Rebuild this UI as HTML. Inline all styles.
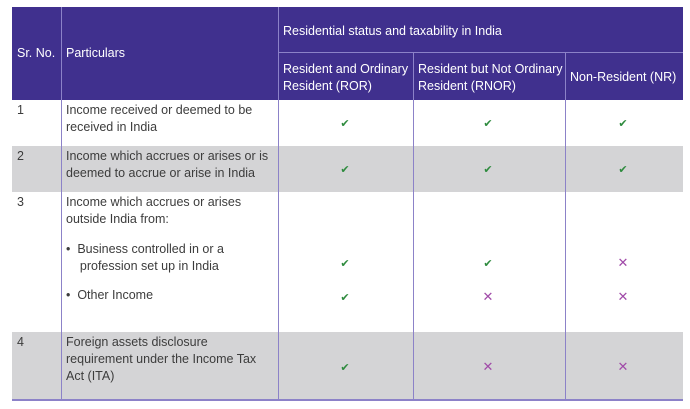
<!DOCTYPE html>
<html><head><style>
body{margin:0;width:690px;height:409px;background:#fff;font-family:"Liberation Sans",sans-serif;position:relative;overflow:hidden}
div{position:absolute;box-sizing:border-box}
.h{background:#40308e}
.t{font-size:12.5px;line-height:17px;color:#3c3c3c}
.w{color:#fff;font-size:12.5px;line-height:17px}
.ck{color:#2e8b3e;font-size:11px;width:20px;text-align:center}
.x{color:#a04aa8;font-size:13px;width:20px;text-align:center}
</style></head><body>
<div class="h" style="left:12px;top:7px;width:671px;height:93px"></div>
<div style="left:278px;top:52px;width:405px;height:1px;background:#8c82c8"></div>
<div style="left:61px;top:7px;width:1px;height:392px;background:#8c82c8"></div>
<div style="left:278px;top:7px;width:1px;height:392px;background:#8c82c8"></div>
<div style="left:413px;top:53px;width:1px;height:346px;background:#8c82c8"></div>
<div style="left:565px;top:53px;width:1px;height:346px;background:#8c82c8"></div>
<div style="left:12px;top:146px;width:671px;height:46px;background:#d4d4d6;z-index:-1"></div>
<div style="left:12px;top:332px;width:671px;height:67px;background:#d4d4d6;z-index:-1"></div>
<div style="left:12px;top:399px;width:671px;height:2px;background:#8c82c8"></div>
<div class="w" style="left:17px;top:45px">Sr. No.</div>
<div class="w" style="left:66px;top:45px">Particulars</div>
<div class="w" style="left:283px;top:23px">Residential status and taxability in India</div>
<div class="w" style="left:283px;top:61px">Resident and Ordinary<br>Resident (ROR)</div>
<div class="w" style="left:418px;top:61px">Resident but Not Ordinary<br>Resident (RNOR)</div>
<div class="w" style="left:570px;top:69px">Non-Resident (NR)</div>
<div class="t" style="left:17px;top:102px">1</div>
<div class="t" style="left:66px;top:102px">Income received or deemed to be<br>received in India</div>
<div class="t" style="left:17px;top:148px">2</div>
<div class="t" style="left:66px;top:148px">Income which accrues or arises or is<br>deemed to accrue or arise in India</div>
<div class="t" style="left:17px;top:194px">3</div>
<div class="t" style="left:66px;top:194px">Income which accrues or arises<br>outside India from:</div>
<div class="t" style="left:66px;top:241px">•&nbsp; Business controlled in or a<br>&nbsp;&nbsp;&nbsp;&nbsp;profession set up in India</div>
<div class="t" style="left:66px;top:287px">•&nbsp; Other Income</div>
<div class="t" style="left:17px;top:334px">4</div>
<div class="t" style="left:66px;top:334px">Foreign assets disclosure<br>requirement under the Income Tax<br>Act (ITA)</div>
<div class="ck" style="left:335px;top:117px">✔</div><div class="ck" style="left:478px;top:117px">✔</div><div class="ck" style="left:613px;top:117px">✔</div>
<div class="ck" style="left:335px;top:163px">✔</div><div class="ck" style="left:478px;top:163px">✔</div><div class="ck" style="left:613px;top:163px">✔</div>
<div class="ck" style="left:335px;top:257px">✔</div><div class="ck" style="left:478px;top:257px">✔</div><div class="x" style="left:613px;top:255px">✕</div>
<div class="ck" style="left:335px;top:291px">✔</div><div class="x" style="left:478px;top:289px">✕</div><div class="x" style="left:613px;top:289px">✕</div>
<div class="ck" style="left:335px;top:361px">✔</div><div class="x" style="left:478px;top:359px">✕</div><div class="x" style="left:613px;top:359px">✕</div>
</body></html>
